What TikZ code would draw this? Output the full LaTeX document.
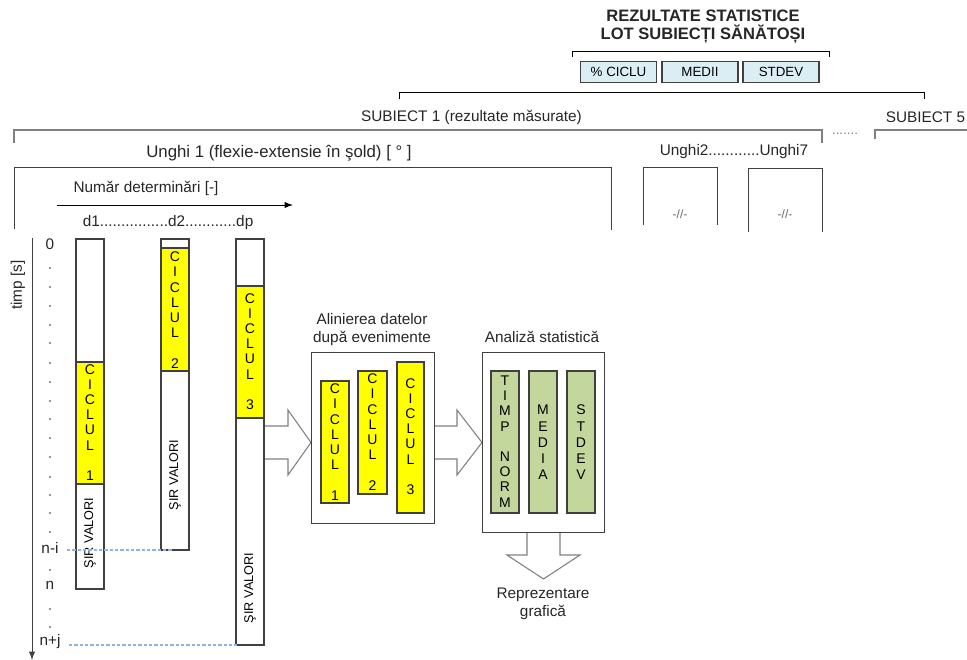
\documentclass[tikz,border=0pt]{standalone}
\usepackage{fontspec}
\setmainfont{Liberation Sans}
\usetikzlibrary{arrows.meta}
\definecolor{dgray}{RGB}{64,64,64}
\definecolor{mgray}{RGB}{128,128,128}
\definecolor{cyclu}{RGB}{255,255,0}
\definecolor{statg}{RGB}{195,214,155}
\definecolor{statb}{RGB}{219,238,244}
\definecolor{dashb}{RGB}{142,180,227}
\tikzset{
  lbl/.style={font=\fontsize{11.5}{13.5}\selectfont, text=black!85, inner sep=0pt},
  vtxt/.style={font=\fontsize{10.5}{11.4}\selectfont, align=center, inner sep=0pt},
  sirv/.style={font=\fontsize{9.5}{11}\selectfont, rotate=90, inner sep=0pt},
  statbox/.style={draw=dgray, line width=1pt, fill=statb, minimum width=57pt,
    minimum height=16pt, inner sep=0pt, font=\fontsize{10}{12}\selectfont},
  bar/.style={draw=dgray, line width=0.8pt},
  hollow/.style={draw=mgray, line width=0.8pt, fill=white},
  dashline/.style={dashb, line width=0.8pt, dash pattern=on 2.5pt off 1.5pt},
}

\begin{document}
\begin{tikzpicture}[x=0.75pt,y=-0.75pt,line width=0.75pt,>={Latex[length=2.2mm]}]
  \useasboundingbox (0,0) rectangle (967,660);
  \node[lbl, font=\bfseries\fontsize{12.4}{13.5}\selectfont, align=center] (titlu) at (703,27)
    {REZULTATE STATISTICE\\LOT SUBIECȚI SĂNĂTOȘI};
  \draw (572,57) -- (572,52) -- (829,52) -- (829,57);
  \node[statbox] (pciclu) at (618.5,72) {\% CICLU};
  \node[statbox] (medii) at (700,72) {MEDII};
  \node[statbox] (stdevr) at (781,72) {STDEV};
  \draw (399,99) -- (399,93) -- (924,93) -- (924,99);
  \node[lbl] (subj1) at (471.5,117) {SUBIECT 1 (rezultate măsurate)};
  \node[lbl] (subj5) at (925.5,117) {SUBIECT 5};
  \draw[mgray, line width=1.5pt] (14,143) -- (14,130) -- (822,130) -- (822,143);
  \draw[mgray, line width=1.5pt] (875,139) -- (875,130) -- (967,130);
  \node[lbl, font=\fontsize{10}{12}\selectfont, text=mgray] (etc) at (845,134) {.......};
  \node[lbl, font=\fontsize{12.6}{14}\selectfont] (unghi1) at (279,153) {Unghi 1 (flexie-extensie în şold) [ ° ]};
  \node[lbl] (unghi27) at (734,152) {Unghi2............Unghi7};
  \draw[dgray] (14,229) -- (14,167) -- (611,167) -- (611,230);
  \draw[dgray] (643,225) -- (643,167) -- (717,167) -- (717,225);
  \draw[dgray] (748,232) -- (748,168) -- (822,168) -- (822,232);
  \node[lbl, font=\fontsize{9}{10}\selectfont, text=mgray!80!black] (idem2) at (680,214) {-//-};
  \node[lbl, font=\fontsize{9}{10}\selectfont, text=mgray!80!black] (idem7) at (785,214) {-//-};
  \node[lbl] (nrdet) at (146,188) {Număr determinări [-]};
  \coordinate (ax0) at (57,205);
  \coordinate (ax1) at (293,205);
  \draw[->] (ax0) -- (ax1);
  \node[lbl] (dlist) at (168,223) {d1................d2............dp};

  \coordinate (t0) at (32,238);
  \coordinate (t1) at (32,660);
  \draw[->, dgray] (t0) -- (t1);
  \node[lbl, rotate=90] (timp) at (18,285) {timp [s]};
  \node[lbl] (t0l) at (50,244) {0};
  \fill[black!80] (50,268) circle (0.9) (50,287) circle (0.9) (50,306) circle (0.9)
    (50,325) circle (0.9) (50,343) circle (0.9) (50,363) circle (0.9) (50,382) circle (0.9)
    (50,401) circle (0.9) (50,419) circle (0.9) (50,438) circle (0.9) (50,457) circle (0.9)
    (50,477) circle (0.9) (50,495) circle (0.9) (50,513) circle (0.9) (50,532) circle (0.9)
    (50,570) circle (0.9) (50,609) circle (0.9) (50,627) circle (0.9);
  \node[lbl] (ni) at (50,548) {n-i};
  \node[lbl] (nn) at (50,585) {n};
  \node[lbl] (nj) at (50,642) {n+j};

  \draw[hollow] (263,426) -- (288,426) -- (288,410) -- (311,442.5) -- (288,475) -- (288,459) -- (263,459);
  \draw[hollow] (434,426) -- (457,426) -- (457,410) -- (482,442.5) -- (457,475) -- (457,459) -- (434,459);
  \draw[hollow] (527,532) -- (527,555) -- (507,555) -- (543.5,579) -- (580,555) -- (560,555) -- (560,532);

  \draw[bar, fill=white] (76,239) rectangle (104,589);
  \draw[bar, fill=cyclu] (76,362) rectangle (104,484);
  \draw[bar, fill=white] (161,239) rectangle (189,550);
  \draw[bar, fill=cyclu] (161,248) rectangle (189,371);
  \draw[bar, fill=white] (236,239) rectangle (264,645);
  \draw[bar, fill=cyclu] (236,286) rectangle (264,418);
  \node[vtxt] (cyc1) at (90,422.5) {C\\I\\C\\L\\U\\L\\{}\\1};
  \node[vtxt] (cyc2) at (175,310) {C\\I\\C\\L\\U\\L\\{}\\2};
  \node[vtxt] (cyc3) at (250,351.5) {C\\I\\C\\L\\U\\L\\{}\\3};
  \node[sirv] (sir1) at (90,533) {ŞIR VALORI};
  \node[sirv] (sir2) at (175,475) {ŞIR VALORI};
  \node[sirv] (sir3) at (250,588) {ŞIR VALORI};
  \coordinate (c2b) at (173,550);
  \coordinate (c3b) at (237,645);
  \draw[dashline, shorten <=6pt] (ni.east |- c2b) -- (c2b);
  \draw[dashline, shorten <=6pt] (nj.east |- c3b) -- (c3b);

  \node[lbl, align=center] (alintit) at (372,330) {Alinierea datelor\\după evenimente};
  \draw[dgray] (311,352) rectangle (434,523);
  \draw[bar, fill=cyclu] (321,381) rectangle (349,503);
  \draw[bar, fill=cyclu] (358,371) rectangle (387,494);
  \draw[bar, fill=cyclu] (397,362) rectangle (424,513);
  \node[vtxt] (cycA) at (335,442) {C\\I\\C\\L\\U\\L\\{}\\1};
  \node[vtxt] (cycB) at (372.5,432) {C\\I\\C\\L\\U\\L\\{}\\2};
  \node[vtxt] (cycC) at (410.5,436.5) {C\\I\\C\\L\\U\\L\\{}\\3};

  \node[lbl] (analtit) at (542,337) {Analiză statistică};
  \draw[dgray] (482,352) rectangle (604,532);
  \draw[bar, fill=statg] (491,371) rectangle (519,513);
  \draw[bar, fill=statg] (529,371) rectangle (557,513);
  \draw[bar, fill=statg] (567,371) rectangle (595,513);
  \node[vtxt] (tnorm) at (505,441.5) {T\\I\\M\\P\\{}\\N\\O\\R\\M};
  \node[vtxt, font=\fontsize{10.5}{12.2}\selectfont] (media) at (543,442.5) {M\\E\\D\\I\\A};
  \node[vtxt, font=\fontsize{10.5}{12.2}\selectfont] (stdev) at (581,442.5) {S\\T\\D\\E\\V};
  \node[lbl, align=center] (repr) at (543,604) {Reprezentare\\grafică};
\end{tikzpicture}
\end{document}
